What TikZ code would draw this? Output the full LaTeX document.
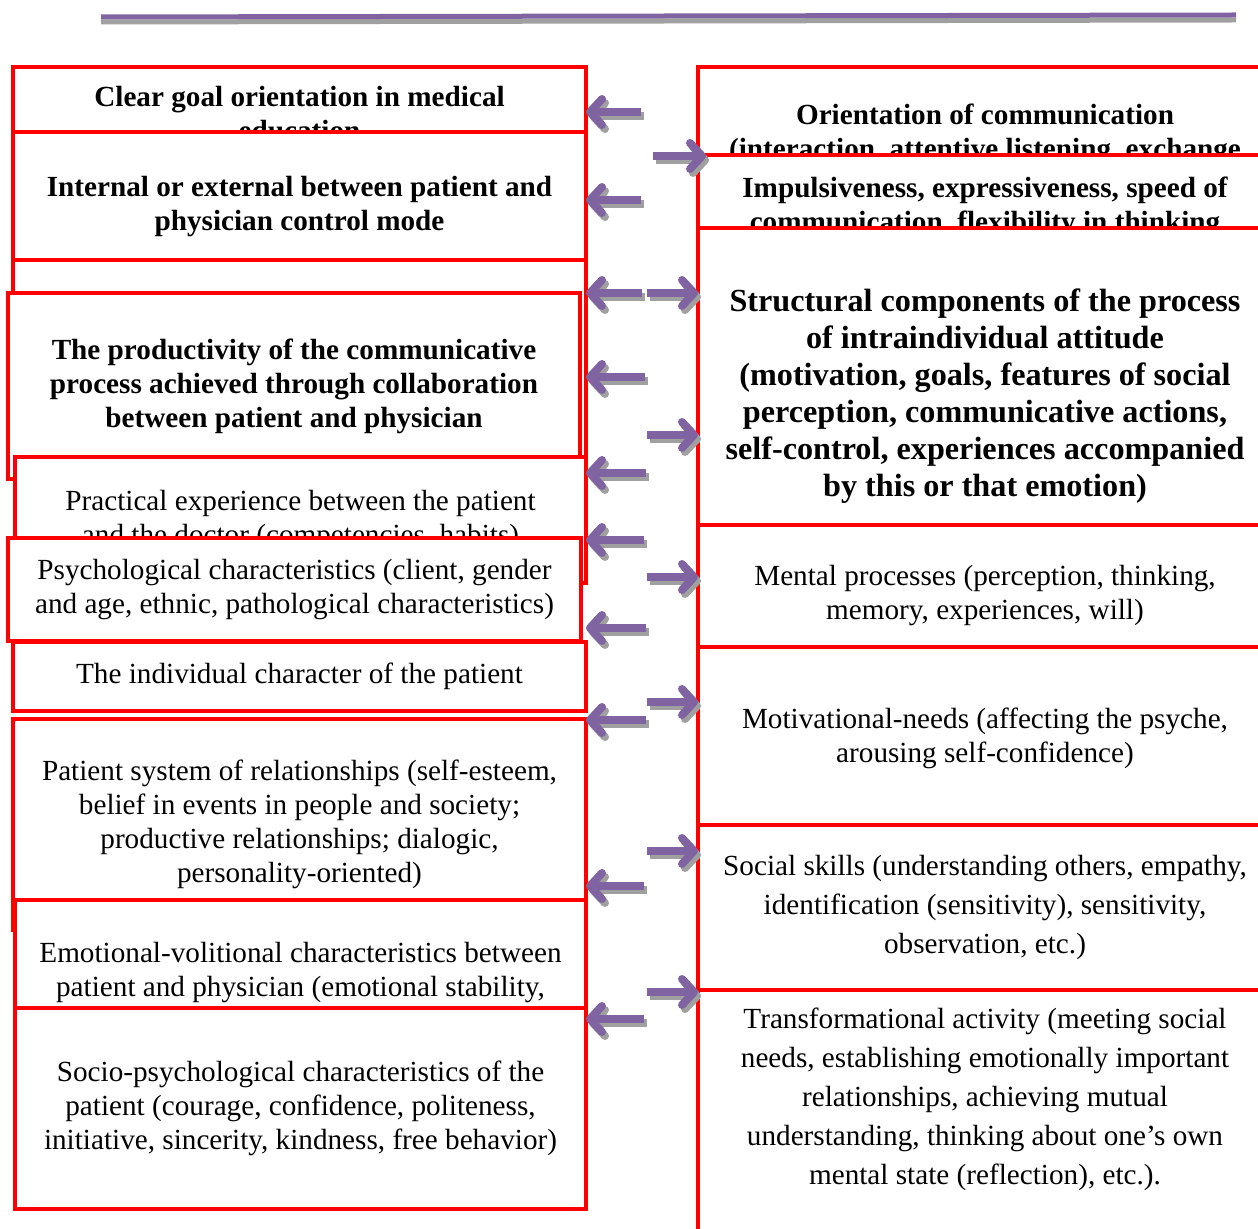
\documentclass[tikz,border=0pt]{standalone}
\usepackage{fontspec}
\setmainfont{Liberation Serif}
\usetikzlibrary{arrows.meta}
\definecolor{boxred}{HTML}{FF0000}
\definecolor{arrpurple}{HTML}{8064A2}
\definecolor{arrshadow}{HTML}{A0A0A0}
\newlength\px
\setlength\px{0.5pt}
\tikzset{
  cbox/.style={draw=boxred, line width=4\px, fill=white, align=center,
    inner sep=0pt, outer sep=0pt, anchor=north west},
  lbox/.style={cbox, minimum width=573\px},
  rbox/.style={cbox, minimum width=574\px},
  bt/.style={font=\fontsize{14.6}{17}\selectfont\bfseries},
  bigbt/.style={font=\fontsize{16.1}{18.5}\selectfont\bfseries},
  rt/.style={font=\fontsize{14.6}{17}\selectfont},
  rtw/.style={font=\fontsize{14.6}{19.5}\selectfont},
  arrbase/.style={line width=8\px, -{Straight Barb[length=6pt, width=13pt, round]}},
  parr/.style={arrbase, draw=arrpurple},
  pshadow/.style={arrbase, draw=arrshadow, transform canvas={shift={(1.5pt,-2pt)}}},
  topbar/.style={line width=5\px},
}

\begin{document}
\begin{tikzpicture}[x=1\px, y=-1\px]
\useasboundingbox (0,0) rectangle (1258,1229);

%% top rule
\draw[topbar, arrshadow] (101,22) -- (1236,20);
\draw[topbar, arrpurple] (101,17) -- (1236,15);

%% =====================================================================
%% left column (drawn top to bottom, later boxes lie over earlier ones)
%% =====================================================================
\node[lbox, bt, minimum height=94\px] (l1) at (13,67) {Clear goal orientation in medical\\education};
\node[lbox, bt, minimum height=150\px] (l2) at (13,132) {Internal or external between patient and\\physician control mode};
\node[lbox, minimum height=200\px] (l3) at (13,260) {};
\node[cbox, bt, minimum width=572\px, minimum height=186\px] (l4) at (8,293) {The productivity of the communicative\\process achieved through collaboration\\between patient and physician};
\node[cbox, rt, minimum width=571\px, minimum height=126\px] (l5) at (15,457) {Practical experience between the patient\\and the doctor (competencies, habits)};
\node[lbox, rt, minimum height=103\px] (l6) at (8,538) {Psychological characteristics (client, gender\\and age, ethnic, pathological characteristics)};
\node[lbox, rt, minimum height=69\px] (l7) at (13,642) {The individual character of the patient};
\node[lbox, rt, minimum height=211\px] (l8) at (13,719) {Patient system of relationships (self-esteem,\\belief in events in people and society;\\productive relationships; dialogic,\\personality-oriented)};
\node[cbox, rt, minimum width=571\px, minimum height=145\px] (l9) at (15,900) {Emotional-volitional characteristics between\\patient and physician (emotional stability,};
\node[cbox, rt, minimum width=571\px, minimum height=201\px] (l10) at (15,1008) {Socio-psychological characteristics of the\\patient (courage, confidence, politeness,\\initiative, sincerity, kindness, free behavior)};

%% =====================================================================
%% right column
%% =====================================================================
\node[rbox, bt, minimum height=134\px] (r1) at (698,67) {Orientation of communication\\(interaction, attentive listening, exchange};
\node[rbox, bt, minimum height=105\px] (r2) at (698,155) {Impulsiveness, expressiveness, speed of\\communication, flexibility in thinking};
\node[rbox, bigbt, minimum height=337\px] (r3) at (698,228) {Structural components of the process\\of intraindividual attitude\\(motivation, goals, features of social\\perception, communicative actions,\\self-control, experiences accompanied\\by this or that emotion)};
\node[rbox, rt, minimum height=142\px] (r4) at (698,525) {Mental processes (perception, thinking,\\memory, experiences, will)};
\node[rbox, rt, minimum height=183\px] (r5) at (698,647) {Motivational-needs (affecting the psyche,\\arousing self-confidence)};
\node[rbox, rtw, minimum height=165\px] (r6) at (698,825) {Social skills (understanding others, empathy,\\identification (sensitivity), sensitivity,\\observation, etc.)};
\node[rbox, minimum height=270\px] (r7) at (698,990) {};
\node[rtw, align=center] (r7txt) at (985,1099) {Transformational activity (meeting social\\needs, establishing emotionally important\\relationships, achieving mutual\\understanding, thinking about one’s own\\mental state (reflection), etc.).};

%% =====================================================================
%% arrows (grey copy first, purple on top)
%% =====================================================================
\coordinate (a1) at (641,112);
\coordinate (a2) at (641,200);
\coordinate (a3) at (642,293);
\coordinate (a4) at (645,377);
\coordinate (a5) at (646,473);
\coordinate (a6) at (644,540);
\coordinate (a7) at (646,628);
\coordinate (a8) at (646,720);
\coordinate (a9) at (644,886);
\coordinate (a10) at (644,1019);
\foreach \a/\b in {a1/l1, a2/l2, a3/l3, a4/l3, a5/l5, a6/l5, a7/l7, a8/l8, a9/l8, a10/l10} {
  \draw[pshadow] (\a) -- (\a -| \b.east);
  \draw[parr] (\a) -- (\a -| \b.east);
}

\coordinate (b1) at (653,156);
\coordinate (b2) at (647,293);
\coordinate (b3) at (647,435);
\coordinate (b4) at (647,577);
\coordinate (b5) at (647,702);
\coordinate (b6) at (647,851);
\coordinate (b7) at (647,992);
\draw[pshadow, shorten >=-4pt] (b1) -- (b1 -| r2.west);
\draw[parr, shorten >=-4pt] (b1) -- (b1 -| r2.west);
\foreach \a/\b in {b2/r3, b3/r3, b4/r4, b5/r5, b6/r6, b7/r7} {
  \draw[pshadow] (\a) -- (\a -| \b.west);
  \draw[parr] (\a) -- (\a -| \b.west);
}

\end{tikzpicture}
\end{document}
